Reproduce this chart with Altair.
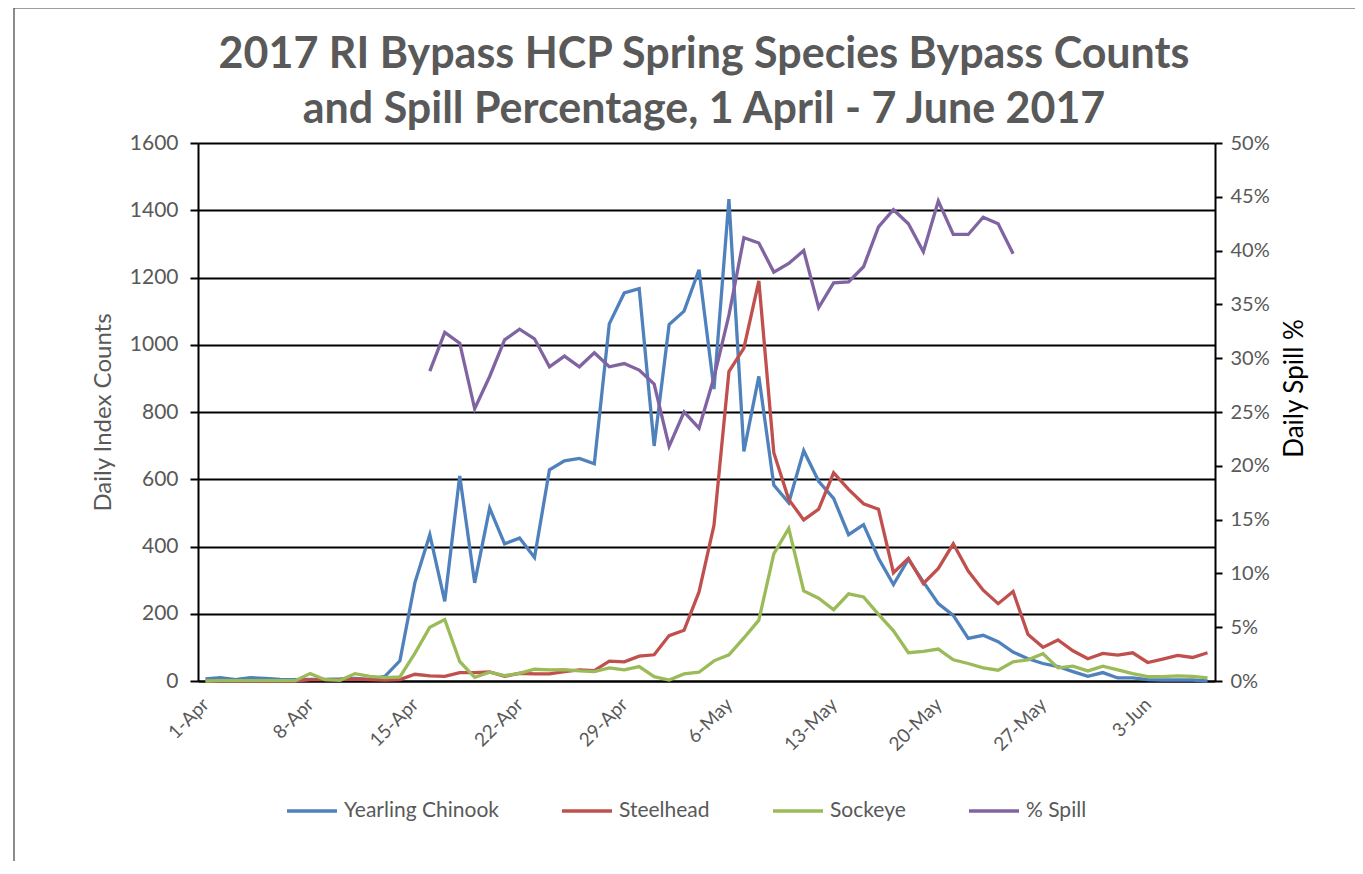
import altair as alt
import pandas as pd

# ---------------- data ----------------
n_days = 68  # 1-Apr .. 7-Jun
tick_days = [0, 7, 14, 21, 28, 35, 42, 49, 56, 63]
tick_labels = ["1-Apr", "8-Apr", "15-Apr", "22-Apr", "29-Apr",
               "6-May", "13-May", "20-May", "27-May", "3-Jun"]

chinook = [6, 10, 4, 10, 8, 5, 4, 5, 5, 6, 8, 5, 14, 60, 292, 435, 237, 610,
           292, 514, 408, 425, 367, 628, 655, 662, 646, 1062, 1154, 1167, 699,
           1060, 1100, 1223, 868, 1433, 683, 906, 583, 530, 685, 594, 543, 435,
           465, 365, 287, 362, 295, 230, 195, 127, 136, 117, 86, 66, 52, 43, 28,
           14, 25, 9, 9, 4, 3, 3, 3, 0]
steelhead = [0, 0, 0, 0, 0, 0, 0, 4, 4, 4, 6, 4, 3, 4, 20, 15, 14, 25, 25, 27,
             14, 23, 21, 21, 28, 33, 31, 59, 57, 74, 78, 135, 151, 265, 463, 920,
             990, 1190, 679, 540, 479, 511, 619, 570, 527, 511, 322, 365, 290,
             335, 408, 327, 270, 230, 266, 138, 100, 122, 90, 66, 82, 77, 84, 55,
             65, 76, 70, 84]
sockeye = [0, 1, 1, 1, 1, 1, 1, 22, 4, 2, 22, 14, 10, 12, 82, 160, 183, 58, 11,
           26, 16, 23, 35, 33, 34, 30, 28, 39, 33, 43, 13, 3, 21, 26, 60, 78, 128,
           181, 378, 454, 268, 246, 212, 259, 250, 198, 149, 84, 88, 95, 63, 52,
           39, 32, 57, 63, 81, 39, 44, 30, 44, 33, 22, 13, 13, 15, 14, 9]
spill_pct = ([None] * 15 +
             [28.8, 32.4, 31.4, 25.3, 28.3, 31.7, 32.7, 31.8, 29.2, 30.2, 29.2,
              30.5, 29.2, 29.5, 28.9, 27.6, 21.8, 25.0, 23.5, 28.2, 34.0, 41.2,
              40.7, 38.0, 38.8, 40.0, 34.7, 37.0, 37.1, 38.5, 42.2, 43.8, 42.5,
              39.9, 44.6, 41.5, 41.5, 43.1, 42.5, 39.7] +
             [None] * 13)

series_names = ["Yearling Chinook", "Steelhead", "Sockeye", "% Spill"]
series_colors = ["#4F81BD", "#C0504D", "#9BBB59", "#8064A2"]

title_lines = ["2017 RI Bypass HCP Spring Species Bypass Counts",
               "and Spill Percentage, 1 April - 7 June 2017"]

# ---------------- tables ----------------
rows = []
for name, vals in zip(series_names[:3], [chinook, steelhead, sockeye]):
    for d, v in enumerate(vals):
        rows.append({"day": d, "count": v, "series": name})
df_counts = pd.DataFrame(rows)
df_spill = pd.DataFrame([{"day": d, "spill": v / 100.0, "series": "% Spill"}
                         for d, v in enumerate(spill_pct) if v is not None])
one = pd.DataFrame({"a": [0]})

FONT = "Lato"
GRAY = "#595959"
W, H = 1017, 538

label_expr = "[" + ",".join("'%s'" % t for t in tick_labels) + "][round(datum.value/7)]"

x_enc = alt.X(
    "day:Q",
    scale=alt.Scale(domain=[-0.5, n_days - 0.5], nice=False, zero=False),
    axis=alt.Axis(values=tick_days, labelExpr=label_expr, labelAngle=315,
                  labelAlign="right", labelBaseline="middle", labelPadding=20,
                  ticks=False, grid=False, domainColor="black", domainWidth=2,
                  labelFont=FONT, labelFontSize=19, labelColor=GRAY,
                  title=None, labelOverlap=False),
)

color_enc = alt.Color(
    "series:N",
    scale=alt.Scale(domain=series_names, range=series_colors),
    legend=alt.Legend(title=None, orient="none", direction="horizontal",
                      legendX=87, legendY=641, symbolType="stroke",
                      symbolSize=2500, symbolStrokeWidth=3.5,
                      labelFont=FONT, labelFontSize=21, labelColor=GRAY,
                      columnPadding=56, labelOffset=5),
)

counts = alt.Chart(df_counts).mark_line(strokeWidth=3.3).encode(
    x=x_enc,
    y=alt.Y("count:Q",
            scale=alt.Scale(domain=[0, 1600], nice=False),
            axis=alt.Axis(values=list(range(0, 1601, 200)), orient="left",
                          format="d",
                          grid=True, gridColor="black", gridWidth=2,
                          domainColor="black", domainWidth=2,
                          tickColor="black", tickSize=8, tickWidth=2,
                          labelFont=FONT, labelFontSize=21, labelColor=GRAY,
                          labelPadding=12, title="Daily Index Counts",
                          titleFont=FONT, titleFontSize=24, titleFontWeight="normal",
                          titleColor=GRAY, titlePadding=14)),
    color=color_enc,
)

spill = alt.Chart(df_spill).mark_line(strokeWidth=3.3).encode(
    x=x_enc,
    y=alt.Y("spill:Q",
            scale=alt.Scale(domain=[0, 0.5], nice=False),
            axis=alt.Axis(values=[i * 0.05 for i in range(11)], orient="right",
                          format=".0%", grid=False,
                          domainColor="black", domainWidth=2,
                          tickColor="black", tickSize=7, tickWidth=2,
                          labelFont=FONT, labelFontSize=20, labelColor=GRAY,
                          labelPadding=8, title="Daily Spill %",
                          titleFont=FONT, titleFontSize=26, titleFontWeight="normal",
                          titleColor="black", titleAngle=270, titleBaseline="top",
                          titlePadding=12, titleY=245)),
    color=color_enc,
)

border = alt.Chart(one).mark_rect(
    fillOpacity=0, stroke="#404040", strokeWidth=1.2
).encode(x=alt.value(-184), x2=alt.value(1159), y=alt.value(-135), y2=alt.value(760))

title1 = alt.Chart(one).mark_text(
    font=FONT, fontSize=43, fontWeight="bold", color=GRAY,
    align="center", baseline="alphabetic"
).encode(x=alt.value(506), y=alt.value(-75), text=alt.value(title_lines[0]))

title2 = alt.Chart(one).mark_text(
    font=FONT, fontSize=43, fontWeight="bold", color=GRAY,
    align="center", baseline="alphabetic"
).encode(x=alt.value(506), y=alt.value(-20), text=alt.value(title_lines[1]))

chart = alt.layer(border, title1, title2, counts, spill).resolve_scale(
    y="independent"
).properties(
    width=W, height=H,
    autosize=alt.AutoSizeParams(type="none"),
    padding={"left": 190, "top": 135, "right": 140, "bottom": 180},
).configure_view(strokeWidth=0).configure(background="white")

chart.save("out.html", embed_options={"renderer": "svg", "actions": False})
